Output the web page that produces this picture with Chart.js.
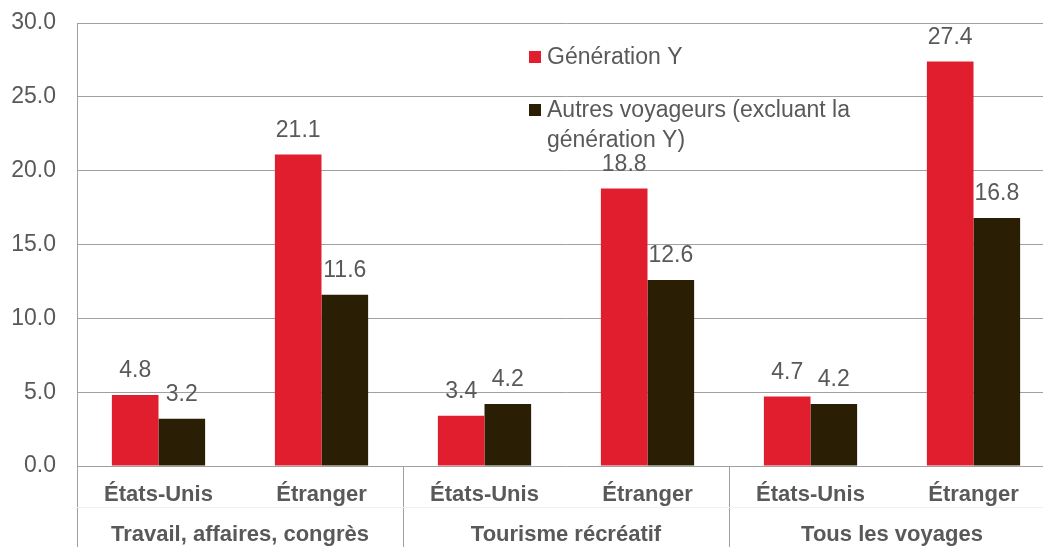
<!DOCTYPE html>
<html>
<head>
<meta charset="utf-8">
<script src="https://cdn.jsdelivr.net/npm/chart.js@4/dist/chart.umd.min.js"></script>
<style>
html,body{margin:0;padding:0;overflow:hidden;background:#fff;}
#wrap{width:1056px;height:547px;position:relative;}
</style>
</head>
<body>
<div id="wrap"><canvas id="c"></canvas></div>
<script>
const categories = ["États-Unis","Étranger","États-Unis","Étranger","États-Unis","Étranger"];
const groups = ["Travail, affaires, congrès","Tourisme récréatif","Tous les voyages"];
const seriesNames = ["Génération Y", ["Autres voyageurs (excluant la","génération Y)"]];
const genY = [4.8, 21.1, 3.4, 18.8, 4.7, 27.4];
const autres = [3.2, 11.6, 4.2, 12.6, 4.2, 16.8];
const yTicks = [0, 5, 10, 15, 20, 25, 30];

const TEXT = '#595959';
const GRID = '#a0a0a0';
const FONT = '"Liberation Sans", Arial, sans-serif';

const decor = {
  id: 'decor',
  afterDatasetsDraw(chart) {
    const ctx = chart.ctx, ca = chart.chartArea, xs = chart.scales.x;
    ctx.save();
    // data labels
    ctx.font = '23px ' + FONT;
    ctx.fillStyle = TEXT;
    ctx.textAlign = 'center';
    ctx.textBaseline = 'middle';
    chart.data.datasets.forEach((ds, di) => {
      chart.getDatasetMeta(di).data.forEach((bar, i) => {
        ctx.fillText(ds.data[i].toFixed(1), bar.x, bar.y - 24);
      });
    });
    // separators below the axis
    ctx.strokeStyle = GRID;
    ctx.lineWidth = 1;
    const H = chart.height;
    const half = (xs.getPixelForValue(1) - xs.getPixelForValue(0)) / 2;
    for (let g = 0; g <= groups.length; g++) {
      const x = Math.round(xs.getPixelForValue(g * 2) - half) + 0.5;
      ctx.beginPath();
      ctx.moveTo(x, g === 0 ? ca.top : ca.bottom);
      ctx.lineTo(x, H);
      ctx.stroke();
    }
    // faint line between label rows
    ctx.strokeStyle = '#f0f0f0';
    ctx.beginPath();
    ctx.moveTo(ca.left, ca.bottom + 41.5);
    ctx.lineTo(ca.right, ca.bottom + 41.5);
    ctx.stroke();
    // group labels
    ctx.font = 'bold 22px ' + FONT;
    ctx.fillStyle = TEXT;
    groups.forEach((g, gi) => {
      const x = (xs.getPixelForValue(gi * 2) + xs.getPixelForValue(gi * 2 + 1)) / 2;
      ctx.fillText(g, x, ca.bottom + 69);
    });
    // legend
    ctx.font = '23px ' + FONT;
    ctx.textAlign = 'left';
    const lx = 529, ly = [57, 110];
    chart.data.datasets.forEach((ds, di) => {
      ctx.fillStyle = ds.backgroundColor;
      ctx.fillRect(lx, ly[di] - 6, 12, 12);
      ctx.fillStyle = TEXT;
      const lines = Array.isArray(ds.label) ? ds.label : [ds.label];
      lines.forEach((t, li) => ctx.fillText(t, lx + 18, ly[di] + 1 + li * 30));
    });
    ctx.restore();
  }
};

new Chart(document.getElementById('c'), {
  type: 'bar',
  data: {
    labels: categories,
    datasets: [
      { label: seriesNames[0], data: genY, backgroundColor: '#E11E2D', borderWidth: 0 },
      { label: seriesNames[1], data: autres, backgroundColor: '#2A1F04', borderWidth: 0 }
    ]
  },
  options: {
    responsive: true,
    maintainAspectRatio: false,
    animation: false,
    layout: { padding: { top: 23, right: 1, left: 0, bottom: 0 } },
    datasets: { bar: { categoryPercentage: 0.572, barPercentage: 1 } },
    plugins: { legend: { display: false }, tooltip: { enabled: false } },
    scales: {
      x: {
        grid: { display: false },
        border: { display: false },
        ticks: { color: TEXT, font: { family: FONT, size: 22, weight: 'bold' }, padding: 8, maxRotation: 0, autoSkip: false },
        afterFit(s) { s.height = 81; s.paddingLeft = 0; s.paddingRight = 0; }
      },
      y: {
        min: 0, max: 30,
        afterBuildTicks(s) { s.ticks = yTicks.map(v => ({ value: v })); },
        grid: { color: GRID, lineWidth: 1, drawTicks: false },
        border: { display: true, color: GRID, width: 1 },
        ticks: { color: TEXT, font: { family: FONT, size: 23 }, padding: 21, callback: v => Number(v).toFixed(1) },
        afterFit(s) { s.width = 77; s.paddingTop = 0; s.paddingBottom = 0; }
      }
    }
  },
  plugins: [decor]
});
</script>
</body>
</html>
